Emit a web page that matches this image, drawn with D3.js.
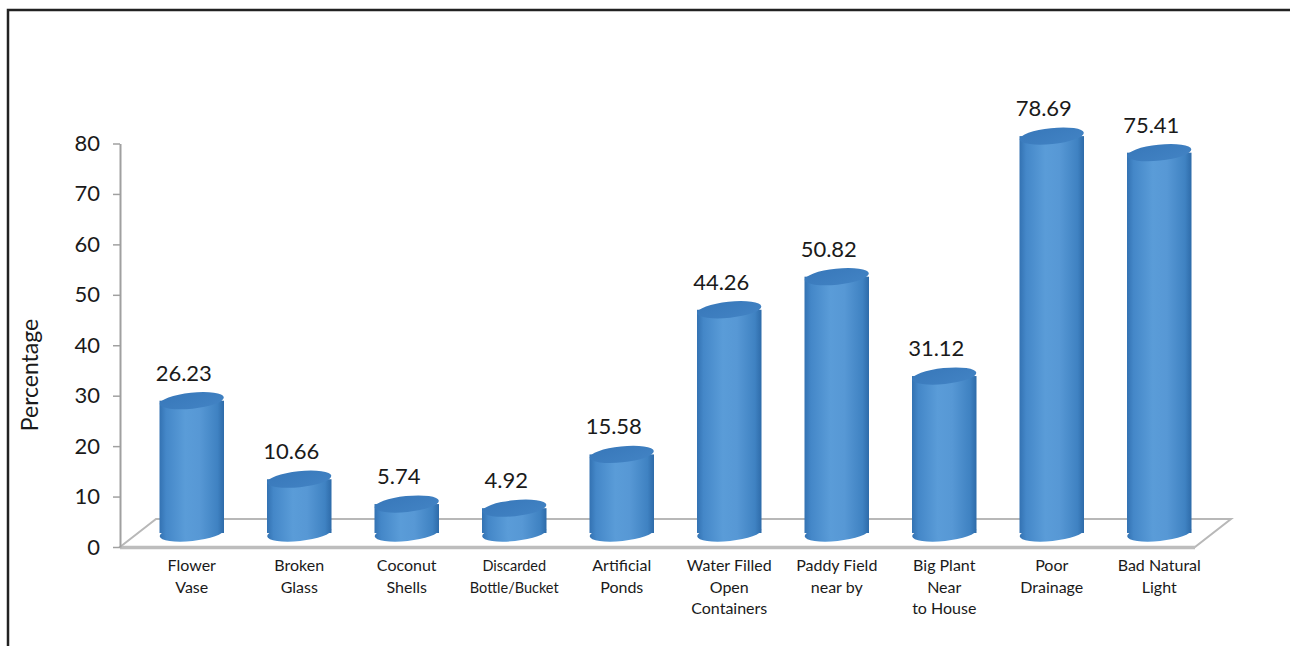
<!DOCTYPE html>
<html>
<head>
<meta charset="utf-8">
<script src="https://cdn.jsdelivr.net/npm/d3@7"></script>
<style>
  html, body { margin: 0; padding: 0; background: #fff; }
  svg { display: block; }
  text { font-family: Lato, "Open Sans", sans-serif; fill: #1a1a1a; }
</style>
</head>
<body>
<svg id="chart" width="1290" height="646"></svg>
<script>
// ---- data ----
const categories = [
  "Flower\nVase",
  "Broken\nGlass",
  "Coconut\nShells",
  "Discarded\nBottle/Bucket",
  "Artificial\nPonds",
  "Water Filled\nOpen\nContainers",
  "Paddy Field\nnear by",
  "Big Plant\nNear\nto House",
  "Poor\nDrainage",
  "Bad Natural\nLight"
];
const values = [26.23, 10.66, 5.74, 4.92, 15.58, 44.26, 50.82, 31.12, 78.69, 75.41];
const valueLabels = ["26.23", "10.66", "5.74", "4.92", "15.58", "44.26", "50.82", "31.12", "78.69", "75.41"];
const yTicks = [0, 10, 20, 30, 40, 50, 60, 70, 80];
const yTitle = "Percentage";

// ---- layout ----
const svg = d3.select("#chart");
const plotLeft = 120, plotRight = 1195, plotBottom = 547, plotTop = 143.5;
const depthX = 36, depthY = -28;

const x = d3.scaleBand().domain(categories).range([plotLeft, plotRight]).padding(0);
const y = d3.scaleLinear().domain([0, 80]).range([plotBottom, plotTop]);

// frame
svg.append("path")
  .attr("d", "M8,646 V10 H1290")
  .attr("fill", "none")
  .attr("stroke", "#222")
  .attr("stroke-width", 2.5);

// floor
const floor = svg.append("g");
floor.append("path")
  .attr("d", `M${plotLeft},${plotBottom} L${plotLeft + depthX},${plotBottom + depthY} L${plotRight + depthX},${plotBottom + depthY} L${plotRight},${plotBottom} Z`)
  .attr("fill", "#fff")
  .attr("stroke", "#b8b8b8")
  .attr("stroke-width", 2);
floor.append("line")
  .attr("x1", plotLeft).attr("x2", plotRight)
  .attr("y1", plotBottom + 0.5).attr("y2", plotBottom + 0.5)
  .attr("stroke", "#bdbdbd").attr("stroke-width", 3.5);

// y axis
const yAxis = svg.append("g")
  .attr("transform", `translate(${plotLeft},0)`)
  .call(d3.axisLeft(y).tickValues(yTicks).tickSize(7).tickSizeOuter(0).tickPadding(13));
yAxis.select(".domain").attr("stroke", "#a0a0a0").attr("stroke-width", 2);
yAxis.selectAll(".tick line").attr("stroke", "#a0a0a0").attr("stroke-width", 1.5);
yAxis.selectAll(".tick text")
  .attr("font-family", "Lato, 'Open Sans', sans-serif")
  .attr("font-size", 22)
  .attr("fill", "#1a1a1a");

// y title
svg.append("text")
  .attr("transform", "translate(38,375) rotate(-90)")
  .attr("text-anchor", "middle")
  .attr("font-size", 23)
  .text(yTitle);

// gradients
const defs = svg.append("defs");
const gBody = defs.append("linearGradient").attr("id", "body").attr("x1", "0").attr("x2", "1").attr("y1", "0").attr("y2", "0");
[["0%", "#3372b2"], ["10%", "#4487c8"], ["40%", "#5a9cd8"], ["62%", "#5798d5"], ["90%", "#3f82c2"], ["100%", "#2e6ba9"]]
  .forEach(([o, c]) => gBody.append("stop").attr("offset", o).attr("stop-color", c));
const gTop = defs.append("linearGradient").attr("id", "topg").attr("x1", "0").attr("x2", "1").attr("y1", "0").attr("y2", "1");
[["0%", "#3878ba"], ["100%", "#4283c4"]]
  .forEach(([o, c]) => gTop.append("stop").attr("offset", o).attr("stop-color", c));

// bars (cylinders)
const bw = x.bandwidth() * 0.6;
const ry = 8;
const tilt = -6;
const baseY = plotBottom + depthY / 2;
const cx = d => x(d) + x.bandwidth() / 2 + depthX / 2;
const data = categories.map((c, i) => ({ c, v: values[i], label: valueLabels[i] }));
const topY = d => baseY - (plotBottom - y(d.v));

const bars = svg.append("g").selectAll("g").data(data).join("g");
bars.append("ellipse")
  .attr("cx", d => cx(d.c)).attr("cy", baseY)
  .attr("rx", bw / 2).attr("ry", ry)
  .attr("transform", d => `rotate(${tilt},${cx(d.c)},${baseY})`)
  .attr("fill", "url(#body)");
bars.append("rect")
  .attr("x", d => cx(d.c) - bw / 2)
  .attr("y", d => topY(d))
  .attr("width", bw)
  .attr("height", d => baseY - topY(d))
  .attr("fill", "url(#body)");
bars.append("ellipse")
  .attr("cx", d => cx(d.c)).attr("cy", d => topY(d))
  .attr("rx", bw / 2).attr("ry", ry)
  .attr("transform", d => `rotate(${tilt},${cx(d.c)},${topY(d)})`)
  .attr("fill", "url(#topg)");

// value labels
bars.append("text")
  .attr("x", d => cx(d.c) - 8)
  .attr("y", d => topY(d) - 20)
  .attr("text-anchor", "middle")
  .attr("font-size", 22)
  .text(d => d.label);

// category labels
const cat = svg.append("g").selectAll("text").data(data).join("text")
  .attr("text-anchor", "middle")
  .attr("font-size", d => d.c.startsWith("Discarded") ? 14.5 : 16);
cat.each(function(d) {
  const lines = d.c.split("\n");
  d3.select(this).selectAll("tspan").data(lines).join("tspan")
    .attr("x", cx(d.c))
    .attr("y", (l, i) => 571 + i * 21.5)
    .text(l => l);
});
</script>
</body>
</html>
